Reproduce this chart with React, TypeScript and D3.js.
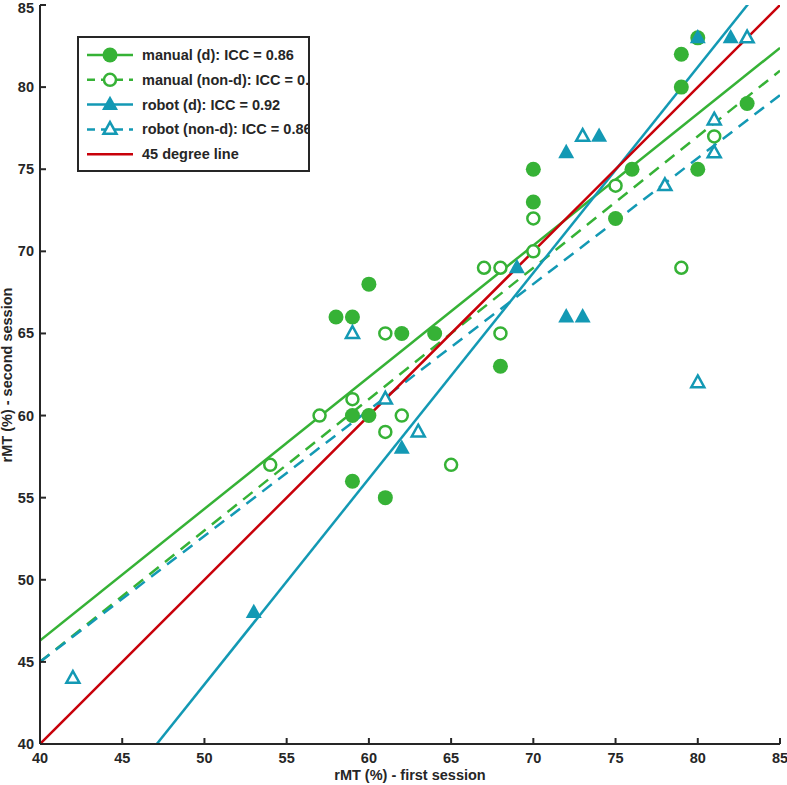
import React from "react";
import * as d3 from "d3";

const xTicks = [40, 45, 50, 55, 60, 65, 70, 75, 80, 85];
const yTicks = [40, 45, 50, 55, 60, 65, 70, 75, 80, 85];

const manualD: [number, number][] = [
  [58, 66], [59, 66], [60, 68], [62, 65], [64, 65], [59, 60], [60, 60], [59, 56], [61, 55],
  [68, 63], [70, 75], [70, 73], [75, 72], [76, 75], [79, 82], [79, 80], [80, 83], [80, 75], [83, 79],
];
const manualND: [number, number][] = [
  [54, 57], [57, 60], [59, 61], [61, 65], [61, 59], [62, 60], [65, 57], [67, 69], [68, 69],
  [68, 65], [70, 72], [70, 70], [75, 74], [79, 69], [81, 77],
];
const robotD: [number, number][] = [
  [53, 48], [62, 58], [69, 69], [72, 76], [74, 77], [72, 66], [73, 66], [80, 83], [82, 83],
];
const robotND: [number, number][] = [
  [42, 44], [59, 65], [61, 61], [63, 59], [73, 77], [78, 74], [81, 78], [81, 76], [80, 62], [83, 83],
];

// fitted lines: [value at x=40, slope]
const fitManualD = [46.3, 0.802];
const fitManualND = [45.0, 0.8];
const fitRobotD = [31.1, 1.253];
const fitRobotND = [45.0, 0.767];
const fitDiag = [40, 1];

const legendLabels = [
  "manual (d): ICC = 0.86",
  "manual (non-d): ICC = 0.87",
  "robot (d): ICC = 0.92",
  "robot (non-d): ICC = 0.86",
  "45 degree line",
];

const GREEN = "#36b236";
const BLUE = "#1399b4";
const RED = "#c8000a";
const AXIS = "#262626";

export default function App() {
  const W = 787, H = 785;
  const x = d3.scaleLinear().domain([40, 85]).range([40, 780]);
  const y = d3.scaleLinear().domain([40, 85]).range([744, 5]);

  const fitLine = (f: number[]) => {
    const pts: [number, number][] = [40, 85].map((xv) => [xv, f[0] + f[1] * (xv - 40)]);
    return d3.line<[number, number]>().x((d) => x(d[0])).y((d) => y(d[1]))(pts) || "";
  };

  const tri = (cx: number, cy: number, s: number) => {
    const h = s * 0.9;
    return `M${cx},${cy - h * 0.62} L${cx + s / 2},${cy + h * 0.38} L${cx - s / 2},${cy + h * 0.38} Z`;
  };

  const font = "'Liberation Sans', Arial, sans-serif";

  const legendRows = [
    { color: GREEN, dash: false, marker: "fc" },
    { color: GREEN, dash: true, marker: "oc" },
    { color: BLUE, dash: false, marker: "ft" },
    { color: BLUE, dash: true, marker: "ot" },
    { color: RED, dash: false, marker: "none" },
  ];

  const LX = 78, LY = 37, LW = 231, LH = 134;

  return (
    <svg width={W} height={H} style={{ position: "absolute", left: 0, top: 0, background: "#fff" }}
      fontFamily={font}>
      <defs>
        <clipPath id="plot">
          <rect x={x(40)} y={y(85)} width={x(85) - x(40)} height={y(40) - y(85)} />
        </clipPath>
        <clipPath id="legclip">
          <rect x={LX} y={LY} width={LW} height={LH} />
        </clipPath>
      </defs>

      {/* fitted lines */}
      <g clipPath="url(#plot)" fill="none" strokeWidth={2.5}>
        <path d={fitLine(fitManualND)} stroke={GREEN} strokeDasharray="12,8" />
        <path d={fitLine(fitRobotND)} stroke={BLUE} strokeDasharray="12,8" />
        <path d={fitLine(fitManualD)} stroke={GREEN} />
        <path d={fitLine(fitRobotD)} stroke={BLUE} />
        <path d={fitLine(fitDiag)} stroke={RED} />
      </g>

      {/* points */}
      <g>
        {manualD.map((d, i) => (
          <circle key={"md" + i} cx={x(d[0])} cy={y(d[1])} r={7.5} fill={GREEN} />
        ))}
        {manualND.map((d, i) => (
          <circle key={"mn" + i} cx={x(d[0])} cy={y(d[1])} r={6} fill="#fff" stroke={GREEN} strokeWidth={2.5} />
        ))}
        {robotD.map((d, i) => (
          <path key={"rd" + i} d={tri(x(d[0]), y(d[1]), 16)} fill={BLUE} />
        ))}
        {robotND.map((d, i) => (
          <path key={"rn" + i} d={tri(x(d[0]), y(d[1]), 13)} fill="#fff" stroke={BLUE} strokeWidth={2.5} />
        ))}
      </g>

      {/* axes */}
      <g stroke={AXIS} strokeWidth={2} fill="none">
        <line x1={x(40)} x2={x(85)} y1={y(40)} y2={y(40)} />
        <line x1={x(40)} x2={x(40)} y1={y(40)} y2={y(85)} />
        {xTicks.map((t) => (
          <line key={"xt" + t} x1={x(t)} x2={x(t)} y1={y(40)} y2={y(40) - 6} />
        ))}
        {yTicks.map((t) => (
          <line key={"yt" + t} x1={x(40)} x2={x(40) + 6} y1={y(t)} y2={y(t)} />
        ))}
      </g>
      <g fontSize={14.5} fontWeight="bold" fill={AXIS}>
        {xTicks.map((t) => (
          <text key={"xl" + t} x={x(t)} y={y(40) + 19} textAnchor="middle">{t}</text>
        ))}
        {yTicks.map((t) => (
          <text key={"yl" + t} x={x(40) - 6} y={Math.max(y(t) + 5, 13)} textAnchor="end">{t}</text>
        ))}
        <text x={410} y={780} textAnchor="middle">rMT (%) - first session</text>
        <text transform={`translate(12,${375}) rotate(-90)`} textAnchor="middle">rMT (%) - second session</text>
      </g>

      {/* legend */}
      <g>
        <rect x={LX} y={LY} width={LW} height={LH} fill="#fff" />
        <g clipPath="url(#legclip)">
          {legendRows.map((r, i) => {
            const cy = 55 + i * 24.8;
            return (
              <g key={"lg" + i}>
                <line x1={87} x2={133} y1={cy} y2={cy} stroke={r.color} strokeWidth={2.5}
                  strokeDasharray={r.dash ? "8,6" : undefined} />
                {r.marker === "fc" && <circle cx={110} cy={cy} r={7.5} fill={r.color} />}
                {r.marker === "oc" && <circle cx={110} cy={cy} r={6} fill="#fff" stroke={r.color} strokeWidth={2.5} />}
                {r.marker === "ft" && <path d={tri(110, cy, 16)} fill={r.color} />}
                {r.marker === "ot" && <path d={tri(110, cy, 13)} fill="#fff" stroke={r.color} strokeWidth={2.5} />}
                <text x={142} y={cy + 5} fontSize={14.5} fontWeight="bold" fill={AXIS}>{legendLabels[i]}</text>
              </g>
            );
          })}
        </g>
        <rect x={LX} y={LY} width={LW} height={LH} fill="none" stroke={AXIS} strokeWidth={2} />
      </g>
    </svg>
  );
}
